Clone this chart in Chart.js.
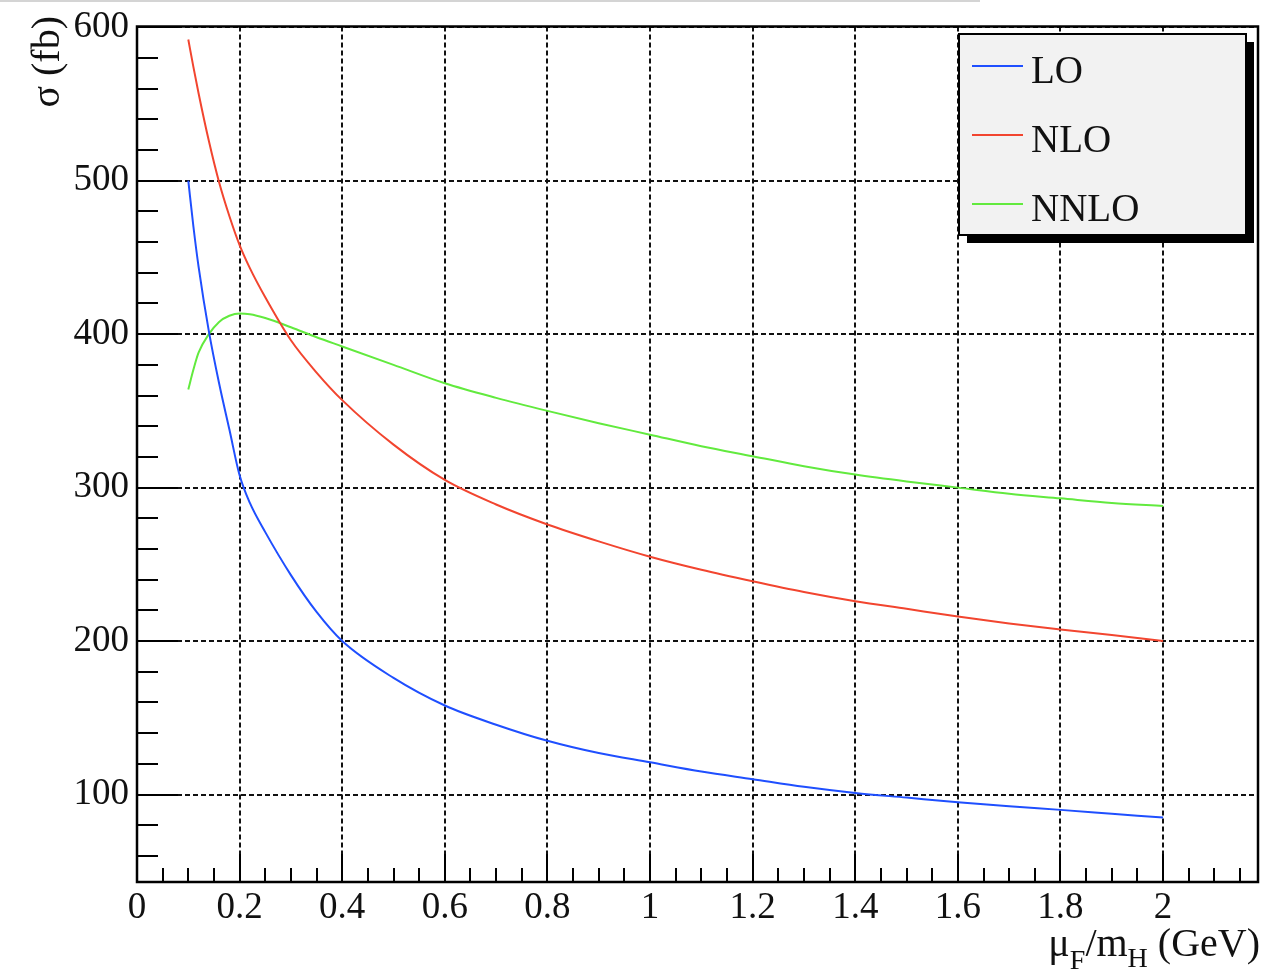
<!DOCTYPE html>
<html>
<head>
<meta charset="utf-8">
<script src="https://cdn.jsdelivr.net/npm/chart.js@4.4.0/dist/chart.umd.min.js"></script>
<style>
html, body { margin: 0; padding: 0; background: #fff; }
#wrap { width: 1266px; height: 974px; }
</style>
</head>
<body>
<div id="wrap"><canvas id="chart" width="1266" height="974"></canvas></div>
<script>
// scale ratio mu_F / m_H
const xs = [0.10, 0.11, 0.12, 0.14, 0.16, 0.18, 0.20, 0.22, 0.25, 0.30, 0.35, 0.40, 0.50, 0.60, 0.70,
            0.80, 0.90, 1.00, 1.10, 1.20, 1.30, 1.40, 1.50, 1.60, 1.70, 1.80, 1.90, 2.00];
// cross sections in fb
const lo   = [500, 470, 444, 402, 368, 338, 308, 290, 271, 243, 219, 200, 176, 158, 145.5,
              135, 127, 121, 115, 110, 105, 101, 98, 95, 92.3, 90, 87.5, 85];
const nlo  = [592, 574, 557, 526, 499, 477, 458, 443, 424, 396, 375, 357, 328, 305, 289,
              276, 265, 255, 246.5, 239, 232, 226, 221, 216, 211.5, 207.5, 204, 200];
const nnlo = [364, 377, 388, 400, 408, 412, 413.5, 413, 410.5, 404.5, 398, 392, 380, 368, 358.5,
              350, 342, 334.5, 327, 320.5, 314, 308.5, 304, 300, 296, 293, 290, 288];

const seriesNames = ['LO', 'NLO', 'NNLO'];
const seriesColors = ['#1f4fff', '#f2452f', '#62ea3e'];

const xTicks = [0, 0.2, 0.4, 0.6, 0.8, 1.0, 1.2, 1.4, 1.6, 1.8, 2.0];
const xTickLabels = ['0', '0.2', '0.4', '0.6', '0.8', '1', '1.2', '1.4', '1.6', '1.8', '2'];
const yTicks = [100, 200, 300, 400, 500, 600];
const yTickLabels = ['100', '200', '300', '400', '500', '600'];

const SERIF = "'Liberation Serif', 'DejaVu Serif', serif";

function pts(ys) {
    return xs.map((x, i) => ({ x: x, y: ys[i] }));
}

// ROOT-like frame, inner ticks, titles and legend
const rootStyle = {
    id: 'rootStyle',
    beforeDraw(chart) {
        const ctx = chart.ctx;
        ctx.save();
        ctx.strokeStyle = '#d4d4d4';
        ctx.lineWidth = 2;
        ctx.beginPath();
        ctx.moveTo(0, 1);
        ctx.lineTo(980, 1);
        ctx.stroke();
        ctx.restore();
    },
    afterDatasetsDraw(chart) {
        const { ctx, chartArea: a, scales: { x, y } } = chart;
        ctx.save();
        ctx.strokeStyle = '#000';
        ctx.lineWidth = 2;
        ctx.beginPath();
        for (let i = 0; i * 0.05 <= x.max + 1e-9; i++) {
            const px = Math.round(x.getPixelForValue(i * 0.05));
            const len = i % 4 === 0 ? 28 : 14;
            ctx.moveTo(px, a.bottom);
            ctx.lineTo(px, a.bottom - len);
        }
        for (let v = Math.ceil(y.min / 20) * 20; v <= y.max; v += 20) {
            const py = Math.round(y.getPixelForValue(v));
            const len = v % 100 === 0 ? 41 : 21;
            ctx.moveTo(a.left, py);
            ctx.lineTo(a.left + len, py);
        }
        ctx.stroke();
        ctx.lineWidth = 2.5;
        ctx.strokeRect(a.left, a.top, a.right - a.left, a.bottom - a.top);
        ctx.restore();
    },
    afterDraw(chart) {
        const { ctx, chartArea: a } = chart;
        ctx.save();
        ctx.fillStyle = '#111';

        // x title: mu_F/m_H (GeV), right aligned to the frame
        const big = '40px ' + SERIF, small = '28px ' + SERIF;
        const parts = [['\u03bc', big, 0], ['F', small, 13], ['/m', big, 0], ['H', small, 11], [' (GeV)', big, 0]];
        let w = 0;
        parts.forEach(p => { ctx.font = p[1]; w += ctx.measureText(p[0]).width; });
        let cx = a.right + 2 - w;
        ctx.textBaseline = 'alphabetic';
        parts.forEach(p => {
            ctx.font = p[1];
            ctx.fillText(p[0], cx, 956 + p[2]);
            cx += ctx.measureText(p[0]).width;
        });

        // y title, rotated, right aligned at the top
        ctx.save();
        ctx.translate(59, 16);
        ctx.rotate(-Math.PI / 2);
        ctx.font = big;
        ctx.textAlign = 'right';
        ctx.fillText('\u03c3 (fb)', 0, 0);
        ctx.restore();

        // legend box with shadow
        const bx = 959, by = 34, bw = 287, bh = 201;
        ctx.fillStyle = '#000';
        ctx.fillRect(bx + 8, by + 8, bw, bh);
        ctx.fillStyle = '#f2f2f2';
        ctx.fillRect(bx, by, bw, bh);
        ctx.strokeStyle = '#000';
        ctx.lineWidth = 2;
        ctx.strokeRect(bx, by, bw, bh);
        const rows = [66, 135, 204];
        chart.data.datasets.forEach((ds, i) => {
            ctx.strokeStyle = ds.borderColor;
            ctx.lineWidth = 2;
            ctx.beginPath();
            ctx.moveTo(972, rows[i]);
            ctx.lineTo(1023, rows[i]);
            ctx.stroke();
            ctx.fillStyle = '#111';
            ctx.font = '39px ' + SERIF;
            ctx.textAlign = 'left';
            ctx.textBaseline = 'alphabetic';
            ctx.fillText(ds.label, 1031, rows[i] + 17);
        });
        ctx.restore();
    }
};

new Chart(document.getElementById('chart'), {
    type: 'line',
    data: {
        datasets: [lo, nlo, nnlo].map((ys, i) => ({
            label: seriesNames[i],
            data: pts(ys),
            borderColor: seriesColors[i],
            borderWidth: 2,
            pointRadius: 0,
            fill: false,
            cubicInterpolationMode: 'monotone'
        }))
    },
    options: {
        responsive: false,
        animation: false,
        events: [],
        layout: { padding: { top: 22, right: 8, left: 0, bottom: 0 } },
        plugins: { legend: { display: false }, tooltip: { enabled: false } },
        scales: {
            x: {
                type: 'linear',
                min: 0,
                max: 2.185,
                afterBuildTicks: s => { s.ticks = xTicks.map(v => ({ value: v })); },
                afterFit: s => { s.height = 92; },
                ticks: {
                    callback: (v, i) => xTickLabels[i],
                    font: { family: SERIF, size: 37, lineHeight: 1 },
                    color: '#111',
                    padding: 8,
                    maxRotation: 0,
                    autoSkip: false
                },
                grid: { color: '#111', lineWidth: 2, drawTicks: false },
                border: { display: false, dash: [5, 3] }
            },
            y: {
                type: 'linear',
                min: 43,
                max: 600.5,
                afterBuildTicks: s => { s.ticks = yTicks.map(v => ({ value: v })); },
                afterFit: s => { s.width = 137; },
                ticks: {
                    callback: (v, i) => yTickLabels[i],
                    font: { family: SERIF, size: 37, lineHeight: 1 },
                    color: '#111',
                    padding: 8,
                    autoSkip: false
                },
                grid: { color: '#111', lineWidth: 2, drawTicks: false },
                border: { display: false, dash: [5, 3] }
            }
        }
    },
    plugins: [rootStyle]
});
</script>
</body>
</html>
